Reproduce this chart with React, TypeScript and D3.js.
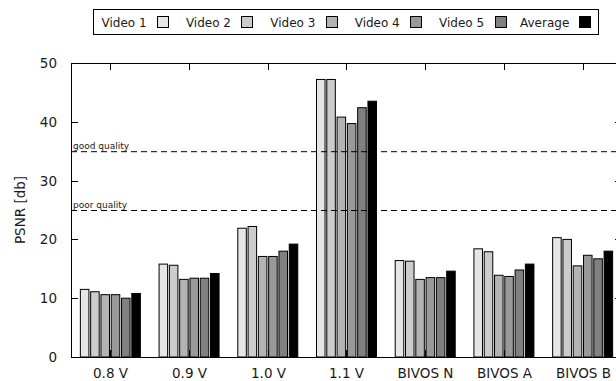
import { useEffect, useRef } from 'react'
import * as d3 from 'd3'

const categories = ['0.8 V', '0.9 V', '1.0 V', '1.1 V', 'BIVOS N', 'BIVOS A', 'BIVOS B']
const seriesNames = ['Video 1', 'Video 2', 'Video 3', 'Video 4', 'Video 5', 'Average']
const seriesColors = ['#e6e6e6', '#cccccc', '#b3b3b3', '#999999', '#808080', '#000000']

const video1 = [11.5, 15.8, 21.9, 47.2, 16.4, 18.4, 20.3]
const video2 = [11.1, 15.6, 22.2, 47.2, 16.3, 17.9, 20.0]
const video3 = [10.6, 13.2, 17.1, 40.8, 13.2, 13.9, 15.5]
const video4 = [10.6, 13.4, 17.1, 39.7, 13.5, 13.7, 17.3]
const video5 = [10.0, 13.4, 18.0, 42.4, 13.5, 14.8, 16.7]
const average = [10.8, 14.2, 19.2, 43.5, 14.6, 15.8, 18.0]

const yTicks = [0, 10, 20, 30, 40, 50]
const thresholds = [
  { value: 35, label: 'good quality' },
  { value: 25, label: 'poor quality' },
]

export default function App() {
  const svgRef = useRef<SVGSVGElement>(null)

  useEffect(() => {
    if (!svgRef.current) return
    const svg = d3.select(svgRef.current)
    svg.selectAll('*').remove()

    const W = 616
    const m = { left: 71, top: 63, bottom: 357, right: 622 }
    const font = 'DejaVu Sans, sans-serif'
    const ink = '#1a1a1a'
    const series = [video1, video2, video3, video4, video5, average]

    const x = d3.scaleBand().domain(categories).range([m.left, m.right])
    const y = d3.scaleLinear().domain([0, 50]).range([m.bottom, m.top])
    const inner = d3.scaleBand().domain(seriesNames).range([0, 60]).paddingInner(0.17)

    // bars
    categories.forEach((cat, ci) => {
      const cx = x(cat)! + x.bandwidth() / 2 - 30
      series.forEach((vals, si) => {
        svg.append('rect')
          .attr('x', cx + inner(seriesNames[si])!)
          .attr('y', y(vals[ci]))
          .attr('width', inner.bandwidth())
          .attr('height', y(0) - y(vals[ci]))
          .attr('fill', seriesColors[si])
          .attr('stroke', '#000').attr('stroke-width', 1)
      })
    })

    // threshold lines
    thresholds.forEach(t => {
      svg.append('line')
        .attr('x1', m.left).attr('x2', W)
        .attr('y1', y(t.value) + 0.5).attr('y2', y(t.value) + 0.5)
        .attr('stroke', '#000').attr('stroke-width', 1)
        .attr('stroke-dasharray', '6,4')
      svg.append('text')
        .attr('x', m.left + 2).attr('y', y(t.value) - 2)
        .attr('font-family', font).attr('font-size', 9).attr('fill', ink)
        .text(t.label)
    })

    // frame
    const frame = svg.append('g').attr('stroke', '#000').attr('stroke-width', 1)
    frame.append('line').attr('x1', m.left + 0.5).attr('x2', m.left + 0.5).attr('y1', m.top).attr('y2', m.bottom)
    frame.append('line').attr('x1', m.left).attr('x2', W).attr('y1', m.top + 0.5).attr('y2', m.top + 0.5)
    frame.append('line').attr('x1', m.left).attr('x2', W).attr('y1', m.bottom + 0.5).attr('y2', m.bottom + 0.5)
    frame.append('line').attr('x1', m.right).attr('x2', m.right).attr('y1', m.top).attr('y2', m.bottom)

    // y ticks
    yTicks.forEach(v => {
      const yy = Math.round(y(v)) + 0.5
      frame.append('line').attr('x1', m.left).attr('x2', m.left + 7).attr('y1', yy).attr('y2', yy)
      frame.append('line').attr('x1', m.right - 7).attr('x2', m.right).attr('y1', yy).attr('y2', yy)
      svg.append('text')
        .attr('x', 57).attr('y', y(v) + 5)
        .attr('text-anchor', 'end')
        .attr('font-family', font).attr('font-size', 13.5).attr('fill', ink)
        .text(v)
    })

    // x ticks + labels
    categories.forEach(cat => {
      const xx = Math.round(x(cat)! + x.bandwidth() / 2) + 0.5
      frame.append('line').attr('x1', xx).attr('x2', xx).attr('y1', m.top).attr('y2', m.top + 7)
      frame.append('line').attr('x1', xx).attr('x2', xx).attr('y1', m.bottom - 7).attr('y2', m.bottom)
      svg.append('text')
        .attr('x', xx).attr('y', 378)
        .attr('text-anchor', 'middle')
        .attr('font-family', font).attr('font-size', 13.5).attr('fill', ink)
        .text(cat)
    })

    // y label
    svg.append('text')
      .attr('transform', `translate(25,${(m.top + m.bottom) / 2}) rotate(-90)`)
      .attr('text-anchor', 'middle')
      .attr('font-family', font).attr('font-size', 13.5).attr('fill', ink)
      .text('PSNR [db]')

    // legend
    const lg = svg.append('g')
    lg.append('rect').attr('x', 93.5).attr('y', 9.5).attr('width', 505).attr('height', 25)
      .attr('fill', '#fff').attr('stroke', '#000').attr('stroke-width', 1)
    seriesNames.forEach((name, i) => {
      const lx = name === 'Average' ? 520 : 101.5 + i * 84.4
      lg.append('text')
        .attr('x', lx).attr('y', 26.5)
        .attr('font-family', font).attr('font-size', 12).attr('fill', ink)
        .text(name)
      lg.append('rect')
        .attr('x', Math.round(157 + i * 84.4) + 0.5).attr('y', 16.5).attr('width', 11).attr('height', 11)
        .attr('fill', seriesColors[i]).attr('stroke', '#000').attr('stroke-width', 1)
    })
  }, [])

  return (
    <svg ref={svgRef} width={616} height={381}
      style={{ position: 'absolute', left: 0, top: 0, background: '#fff' }} />
  )
}
